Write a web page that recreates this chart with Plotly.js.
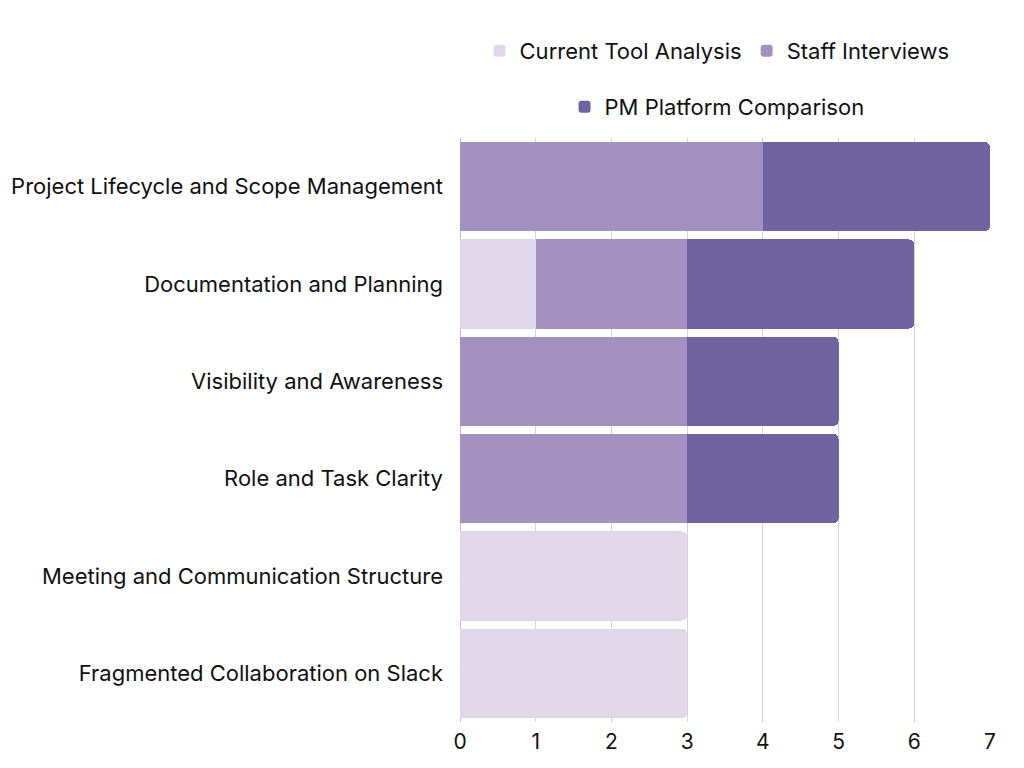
<!DOCTYPE html>
<html>
<head>
<meta charset="utf-8">
<script src="https://cdn.plot.ly/plotly-3.0.1.min.js"></script>
<style>html,body{margin:0;padding:0;background:#fff}#chart{width:1024px;height:768px}</style>
</head>
<body>
<div id="chart"></div>
<script>
const categories = [
  "Project Lifecycle and Scope Management",
  "Documentation and Planning",
  "Visibility and Awareness",
  "Role and Task Clarity",
  "Meeting and Communication Structure",
  "Fragmented Collaboration on Slack"
];
const seriesNames = ["Current Tool Analysis", "Staff Interviews", "PM Platform Comparison"];
const currentTool = [0, 1, 0, 0, 3, 3];
const staffInterviews = [4, 2, 3, 3, 0, 0];
const pmPlatform = [3, 3, 2, 2, 0, 0];
const xTicks = [0, 1, 2, 3, 4, 5, 6, 7];

const colors = ["#E0D8E8", "#A391BF", "#6F63A0"];
const values = [currentTool, staffInterviews, pmPlatform];
const legendIds = ["legend", "legend", "legend2"];

const traces = values.map((v, i) => ({
  type: "bar",
  orientation: "h",
  name: seriesNames[i],
  legend: legendIds[i],
  y: categories,
  x: v,
  marker: {color: colors[i], line: {width: 0}},
  hoverinfo: "skip"
}));

const legendFont = {family: "Inter, 'DejaVu Sans', sans-serif", size: 22, color: "#111111"};

const layout = {
  width: 1024,
  height: 768,
  barmode: "stack",
  bargap: 0.085,
  barcornerradius: 5,
  paper_bgcolor: "#ffffff",
  plot_bgcolor: "#ffffff",
  font: {family: "Inter, 'DejaVu Sans', sans-serif", size: 21, color: "#111111"},
  margin: {l: 460, r: 34, t: 138, b: 46, autoexpand: false},
  showlegend: true,
  legend: {
    orientation: "h",
    x: 0.485, xanchor: "center",
    y: 1.149, yanchor: "middle",
    font: legendFont,
    traceorder: "normal",
    itemclick: false,
    bgcolor: "rgba(0,0,0,0)"
  },
  legend2: {
    orientation: "h",
    x: 0.485, xanchor: "center",
    y: 1.053, yanchor: "middle",
    font: legendFont,
    itemclick: false,
    bgcolor: "rgba(0,0,0,0)"
  },
  xaxis: {
    range: [0, 7],
    tickvals: xTicks,
    ticktext: xTicks.map(String),
    showgrid: true,
    gridcolor: "#d4d4d4",
    gridwidth: 1,
    zeroline: true,
    zerolinecolor: "#bdbdbd",
    zerolinewidth: 1,
    showline: false,
    ticks: "",
    ticklabelstandoff: 5,
    tickfont: {size: 21, color: "#111111"},
    fixedrange: true
  },
  yaxis: {
    categoryorder: "array",
    categoryarray: categories,
    autorange: "reversed",
    showgrid: false,
    zeroline: false,
    showline: false,
    ticks: "",
    ticklabelstandoff: 16,
    tickfont: {size: 22, color: "#111111"},
    fixedrange: true
  }
};

Plotly.newPlot("chart", traces, layout, {displayModeBar: false, staticPlot: true});
</script>
</body>
</html>
